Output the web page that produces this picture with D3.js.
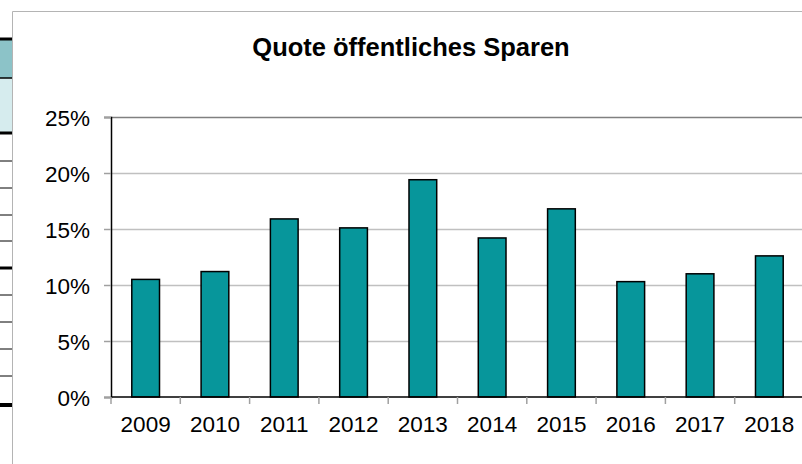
<!DOCTYPE html>
<html lang="de">
<head>
  <meta charset="UTF-8">
  <title>Quote öffentliches Sparen</title>
  <script src="https://d3js.org/d3.v7.min.js"></script>
  <style>
    body { margin: 0; background: #fff; }
    text { font-family: "Liberation Sans", Arial, sans-serif; fill: #000; }
  </style>
</head>
<body>
  <div id="chart"></div>

  <script>
    // Data
    const years = ["2009", "2010", "2011", "2012", "2013", "2014", "2015", "2016", "2017", "2018"];
    const quote = [10.5, 11.2, 15.9, 15.1, 19.4, 14.2, 16.8, 10.3, 11.0, 12.6];
    const yTicks = [0, 5, 10, 15, 20, 25];

    const W = 802, H = 464;
    const margin = { top: 117, right: -2, bottom: 67, left: 111 };
    const width = W - margin.left - margin.right;
    const height = H - margin.top - margin.bottom;

    const svg = d3.select("#chart")
      .append("svg")
      .attr("width", W)
      .attr("height", H);

    // left-edge table fragment (cut off neighbouring table)
    const edge = svg.append("g");
    edge.append("rect").attr("x", 0).attr("y", 39).attr("width", 12).attr("height", 39).attr("fill", "#8cc3c8");
    edge.append("rect").attr("x", 0).attr("y", 78).attr("width", 12).attr("height", 55).attr("fill", "#d6ecee");
    [[39, 3], [78, 1.5], [133, 3], [161, 1], [188, 1], [215, 1], [241, 1], [268, 3],
     [295, 1], [322, 1], [349, 1], [376, 1], [405, 4]].forEach(([yy, sw]) => {
      edge.append("line").attr("x1", 0).attr("x2", 12).attr("y1", yy).attr("y2", yy)
        .attr("stroke", "#000").attr("stroke-width", sw);
    });

    // chart frame
    svg.append("path")
      .attr("d", "M12.5," + H + "V11.5H" + W)
      .attr("fill", "none")
      .attr("stroke", "#b4b4b4");

    // title
    svg.append("text")
      .attr("x", 411)
      .attr("y", 56)
      .attr("text-anchor", "middle")
      .style("font-size", "25.5px")
      .style("font-weight", "bold")
      .text("Quote öffentliches Sparen");

    const g = svg.append("g")
      .attr("transform", "translate(" + margin.left + "," + margin.top + ")");

    const x = d3.scaleBand()
      .domain(years)
      .range([0, width])
      .paddingInner(0.6)
      .paddingOuter(0.3);

    const y = d3.scaleLinear()
      .domain([0, 25])
      .range([height, 0]);

    // gridlines
    g.append("g")
      .selectAll("line")
      .data(yTicks.filter(d => d > 0 && d < 25))
      .enter().append("line")
        .attr("x1", 0)
        .attr("x2", width)
        .attr("y1", d => Math.round(y(d)) + 0.5)
        .attr("y2", d => Math.round(y(d)) + 0.5)
        .attr("stroke", "#c0c0c0")
        .attr("stroke-width", 1.5);

    // top border of plot area
    g.append("line")
      .attr("x1", 0).attr("x2", width)
      .attr("y1", 0.5).attr("y2", 0.5)
      .attr("stroke", "#808080")
      .attr("stroke-width", 1.5);

    // bars
    g.selectAll(".bar")
      .data(years.map((yr, i) => ({ year: yr, value: quote[i] })))
      .enter().append("rect")
        .attr("class", "bar")
        .attr("x", d => x(d.year))
        .attr("y", d => y(d.value))
        .attr("width", x.bandwidth())
        .attr("height", d => y(0) - y(d.value))
        .attr("fill", "#07969b")
        .attr("stroke", "#000")
        .attr("stroke-width", 1.5);

    // y axis
    const yAxis = g.append("g")
      .call(d3.axisLeft(y).tickValues(yTicks).tickFormat(d => d + "%").tickSize(7).tickPadding(14));
    yAxis.select(".domain").attr("stroke", "#000").attr("stroke-width", 1.5);
    yAxis.selectAll(".tick line").attr("stroke", "#a0a0a0").attr("stroke-width", 1.5);
    yAxis.selectAll("text").style("font-size", "22.5px").attr("dy", "0.36em");

    // x axis
    const step = width / years.length;
    const xAxis = g.append("g")
      .attr("transform", "translate(0," + height + ")");
    xAxis.append("line")
      .attr("x1", 0).attr("x2", width)
      .attr("stroke", "#000").attr("stroke-width", 1.5);
    xAxis.selectAll(".xtick")
      .data(d3.range(years.length + 1))
      .enter().append("line")
        .attr("class", "xtick")
        .attr("x1", i => i * step)
        .attr("x2", i => i * step)
        .attr("y1", 0)
        .attr("y2", 7)
        .attr("stroke", "#a0a0a0")
        .attr("stroke-width", 1.5);
    xAxis.selectAll(".xlabel")
      .data(years)
      .enter().append("text")
        .attr("class", "xlabel")
        .attr("x", d => x(d) + x.bandwidth() / 2)
        .attr("y", 35)
        .attr("text-anchor", "middle")
        .style("font-size", "22.5px")
        .text(d => d);
  </script>
</body>
</html>
